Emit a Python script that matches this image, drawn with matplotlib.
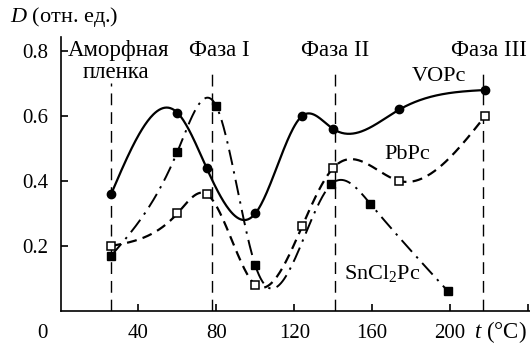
"""
Optical density of phthalocyanine films versus annealing temperature.
"""

import numpy as np
import matplotlib
matplotlib.use("Agg")
import matplotlib.pyplot as plt

plt.rcParams["font.family"] = ["Liberation Serif", "DejaVu Serif"]
plt.rcParams["mathtext.fontset"] = "custom"
plt.rcParams["mathtext.rm"] = "Liberation Serif"
plt.rcParams["mathtext.it"] = "Liberation Serif:italic"

# measured points, t in deg C, D in relative units
vopc_t = [26, 60, 75, 100, 124, 140, 174, 218]
vopc_d = [0.36, 0.61, 0.44, 0.30, 0.60, 0.56, 0.62, 0.68]

pbpc_t = [26, 60, 75, 100, 124, 140, 174, 218]
pbpc_d = [0.20, 0.30, 0.36, 0.08, 0.26, 0.44, 0.40, 0.60]

sncl_t = [26, 60, 80, 100, 139, 159, 199]
sncl_d = [0.17, 0.49, 0.63, 0.14, 0.39, 0.33, 0.06]

phase_t = [26, 78, 141, 217]
phase_names = ["Аморфная", "Фаза I", "Фаза II", "Фаза III"]

xticks = [40, 80, 120, 160, 200, 240]
xtick_labels = ["40", "80", "120", "160", "200", ""]
yticks = [0.2, 0.4, 0.6, 0.8]


def natural_spline(x, y, n=400):
    """Natural cubic spline through (x, y), sampled on n points."""
    x = np.asarray(x, float)
    y = np.asarray(y, float)
    k = len(x)
    h = np.diff(x)
    a = np.zeros((k, k))
    b = np.zeros(k)
    a[0, 0] = a[-1, -1] = 1.0
    for i in range(1, k - 1):
        a[i, i - 1] = h[i - 1]
        a[i, i] = 2 * (h[i - 1] + h[i])
        a[i, i + 1] = h[i]
        b[i] = 6 * ((y[i + 1] - y[i]) / h[i] - (y[i] - y[i - 1]) / h[i - 1])
    m = np.linalg.solve(a, b)
    xs = np.linspace(x[0], x[-1], n)
    idx = np.clip(np.searchsorted(x, xs) - 1, 0, k - 2)
    x0, x1 = x[idx], x[idx + 1]
    hh = x1 - x0
    t0, t1 = x1 - xs, xs - x0
    ys = (m[idx] * t0 ** 3 + m[idx + 1] * t1 ** 3) / (6 * hh) \
        + (y[idx] / hh - m[idx] * hh / 6) * t0 \
        + (y[idx + 1] / hh - m[idx + 1] * hh / 6) * t1
    return xs, ys


fig = plt.figure(figsize=(5.30, 3.47), dpi=100)
ax = fig.add_axes([60.5 / 530, 36 / 347, 469.5 / 530, 274 / 347])
ax.set_xlim(0, 241)
ax.set_ylim(0, 0.843)

for s in ("top", "right"):
    ax.spines[s].set_visible(False)
for s in ("left", "bottom"):
    ax.spines[s].set_linewidth(1.2)

# phase boundaries
for t, top in zip(phase_t, [0.70, 0.73, 0.735, 0.735]):
    ax.plot([t, t], [0, top], color="black", lw=1.0, dashes=(8.5, 5))

# VOPc
xs, ys = natural_spline(vopc_t, vopc_d)
ax.plot(xs, ys, color="black", lw=1.6)
ax.plot(vopc_t, vopc_d, "o", color="black", ms=6)

# PbPc
xs, ys = natural_spline(pbpc_t, pbpc_d)
ax.plot(xs, ys, color="black", lw=1.6, dashes=(4.5, 2.8))
ax.plot(pbpc_t, pbpc_d, "s", mfc="white", mec="black", mew=1.1, ms=6)

# SnCl2Pc
xs, ys = natural_spline(sncl_t, sncl_d)
ax.plot(xs, ys, color="black", lw=1.4, dashes=(8, 3.3, 1.2, 3.3))
ax.plot(sncl_t, sncl_d, "s", color="black", ms=6)

ax.set_xticks(xticks)
ax.set_xticklabels(xtick_labels)
ax.set_yticks(yticks)
ax.set_yticklabels([f"{v:.1f}" for v in yticks])
ax.tick_params(direction="in", length=5, width=1.2, labelsize=15)
ax.tick_params(axis="y", pad=9)
ax.tick_params(axis="x", pad=9)

ax.annotate("0", xy=(0, 0), xytext=(-13, -16), textcoords="offset points",
            ha="center", va="center", fontsize=15)
ax.annotate("$t$ (°C)", xy=(241, 0), xytext=(-21, -15),
            textcoords="offset points", ha="center", va="center", fontsize=16.5)
fig.text(10 / 530, 1 - 17 / 347, "$D$ (отн. ед.)", ha="left", va="center",
         fontsize=16)

# phase captions above the boundaries
label_y = 0.8
ax.text(3.5, label_y, phase_names[0], ha="left", va="center", fontsize=16.5)
ax.text(28.5, 0.735, "пленка", ha="center", va="center", fontsize=16.5)
for t, name, dx in zip(phase_t[1:], phase_names[1:], [3.5, 0, 3]):
    ax.text(t + dx, label_y, name, ha="center", va="center", fontsize=16.5)

ax.text(194, 0.72, "VOPc", ha="center", va="center", fontsize=16)
ax.text(178, 0.48, "PbPc", ha="center", va="center", fontsize=16)
ax.text(165, 0.115, "SnCl$_2$Pc", ha="center", va="center", fontsize=16)

fig.savefig("out.png", dpi=100)
